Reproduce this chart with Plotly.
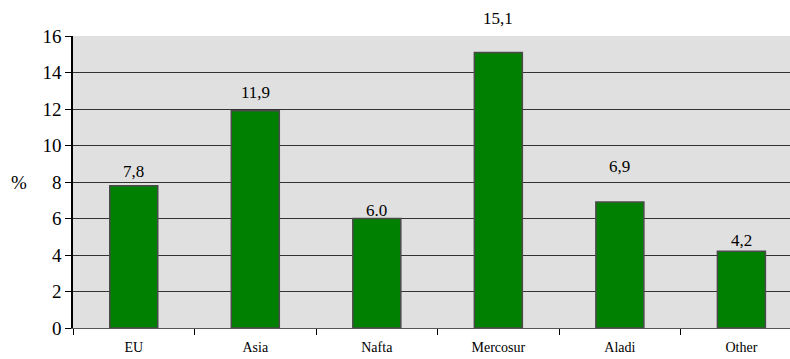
import plotly.graph_objects as go

categories = ["EU", "Asia", "Nafta", "Mercosur", "Aladi", "Other"]
values = [7.8, 11.9, 6.0, 15.1, 6.9, 4.2]
value_labels = ["7,8", "11,9", "6.0", "15,1", "6,9", "4,2"]
label_offsets = [14, 18, 8, 34, 36, 11]
y_ticks = [0, 2, 4, 6, 8, 10, 12, 14, 16]

FONT = "Times New Roman, Liberation Serif, DejaVu Serif, serif"

fig = go.Figure()
fig.add_trace(go.Bar(
    x=categories, y=values, width=0.395,
    marker=dict(color="#008000", line=dict(color="#4a4a4a", width=1.5)),
    hoverinfo="skip",
))

for c, v, t, off in zip(categories, values, value_labels, label_offsets):
    fig.add_annotation(x=c, y=v, text=t, showarrow=False, yanchor="middle",
                       yshift=off, font=dict(family=FONT, size=17, color="black"))

fig.add_annotation(xref="paper", yref="paper", x=-0.075, y=0.5, text="%",
                   showarrow=False, xanchor="center", yanchor="middle",
                   font=dict(family=FONT, size=19, color="black"))

fig.update_layout(
    width=790, height=359,
    margin=dict(l=73, r=0, t=36, b=31),
    paper_bgcolor="white", plot_bgcolor="#e0e0e0",
    showlegend=False,
    font=dict(family=FONT, color="black"),
)
fig.update_xaxes(
    type="category", range=[-0.5, 5.4], tickson="boundaries",
    ticks="outside", ticklen=6, tickcolor="black", tickwidth=1,
    showgrid=False, showline=True, linecolor="#555", linewidth=1,
    ticklabelstandoff=6,
    tickfont=dict(family=FONT, size=14, color="black"),
)
fig.update_yaxes(
    range=[0, 16], tickvals=y_ticks,
    ticks="outside", ticklen=6, tickcolor="black", tickwidth=1,
    showgrid=True, gridcolor="#333", gridwidth=1,
    showline=True, linecolor="black", linewidth=1.5,
    zeroline=False,
    tickfont=dict(family=FONT, size=19, color="black"),
)
fig.write_html("out.html")
